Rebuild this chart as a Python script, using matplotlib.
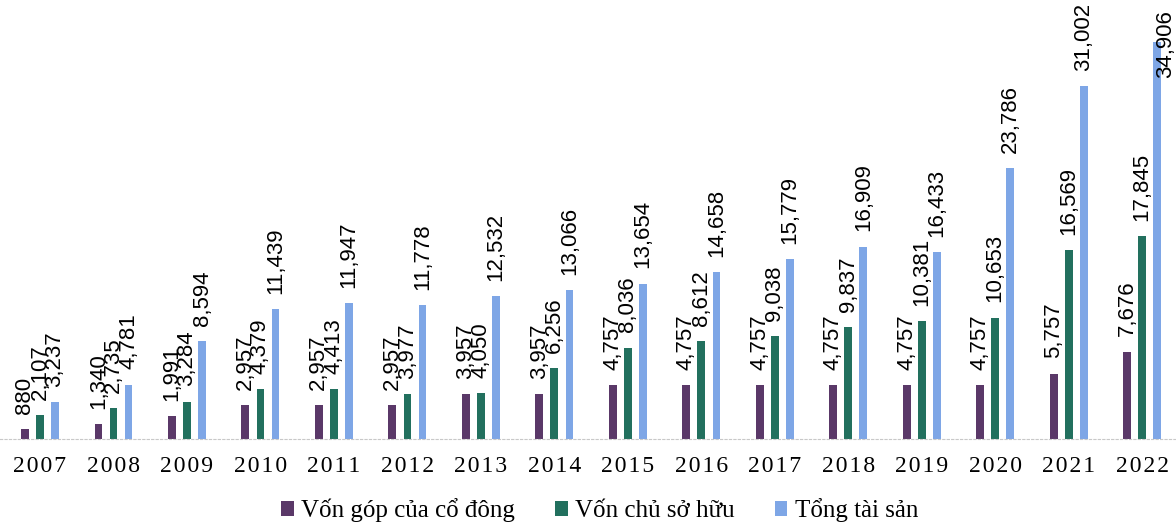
import numpy as np
import matplotlib.pyplot as plt

years = ["2007", "2008", "2009", "2010", "2011", "2012", "2013", "2014",
         "2015", "2016", "2017", "2018", "2019", "2020", "2021", "2022"]
von_gop = [880, 1340, 1991, 2957, 2957, 2957, 3957, 3957,
           4757, 4757, 4757, 4757, 4757, 4757, 5757, 7676]
von_chu = [2107, 2735, 3284, 4379, 4413, 3977, 4050, 6256,
           8036, 8612, 9038, 9837, 10381, 10653, 16569, 17845]
tong_ts = [3237, 4781, 8594, 11439, 11947, 11778, 12532, 13066,
           13654, 14658, 15779, 16909, 16433, 23786, 31002, 34906]

series_names = ["Vốn góp của cổ đông", "Vốn chủ sở hữu", "Tổng tài sản"]
colors = ["#5a3868", "#22705e", "#7ea6e6"]

fig = plt.figure(figsize=(11.76, 5.29), dpi=100)
ax = fig.add_axes([0, 0.17, 1, 0.775])

x = np.arange(len(years))
width = 0.105
offset = 0.205

for i, (vals, name, c) in enumerate(zip([von_gop, von_chu, tong_ts], series_names, colors)):
    pos = x + (i - 1) * offset
    ax.bar(pos, vals, width, color=c, label=name)
    for px, v in zip(pos, vals):
        # the tallest label would run off the top, so it sits down over its bar
        shift = (6, -26) if v == max(tong_ts) else (0, 11)
        ax.annotate(f"{v:,}", (px, v), xytext=shift, textcoords="offset points",
                    rotation=90, ha="center", va="bottom", fontsize=16,
                    family="Liberation Sans", annotation_clip=False)

ax.set_xlim(-0.544, 15.46)
ax.set_ylim(0, 36000)
ax.set_yticks([])
ax.set_xticks(x)
ax.set_xticklabels(["\u200a".join(y) for y in years],
                   family=["Liberation Serif", "DejaVu Serif"], fontsize=17)
ax.tick_params(axis="x", length=0, pad=12)
for s in ["top", "right", "left"]:
    ax.spines[s].set_visible(False)
ax.spines["bottom"].set_color("#c8c8c8")
ax.spines["bottom"].set_linestyle((0, (2, 2)))
ax.spines["bottom"].set_linewidth(0.8)

fig.legend(loc="lower center", bbox_to_anchor=(0.51, -0.03), ncol=3,
           frameon=False, handlelength=0.5, handleheight=0.5,
           handletextpad=0.3, columnspacing=1.6,
           prop={"family": "Liberation Serif", "size": 18})

fig.savefig("out.png", dpi=100)
